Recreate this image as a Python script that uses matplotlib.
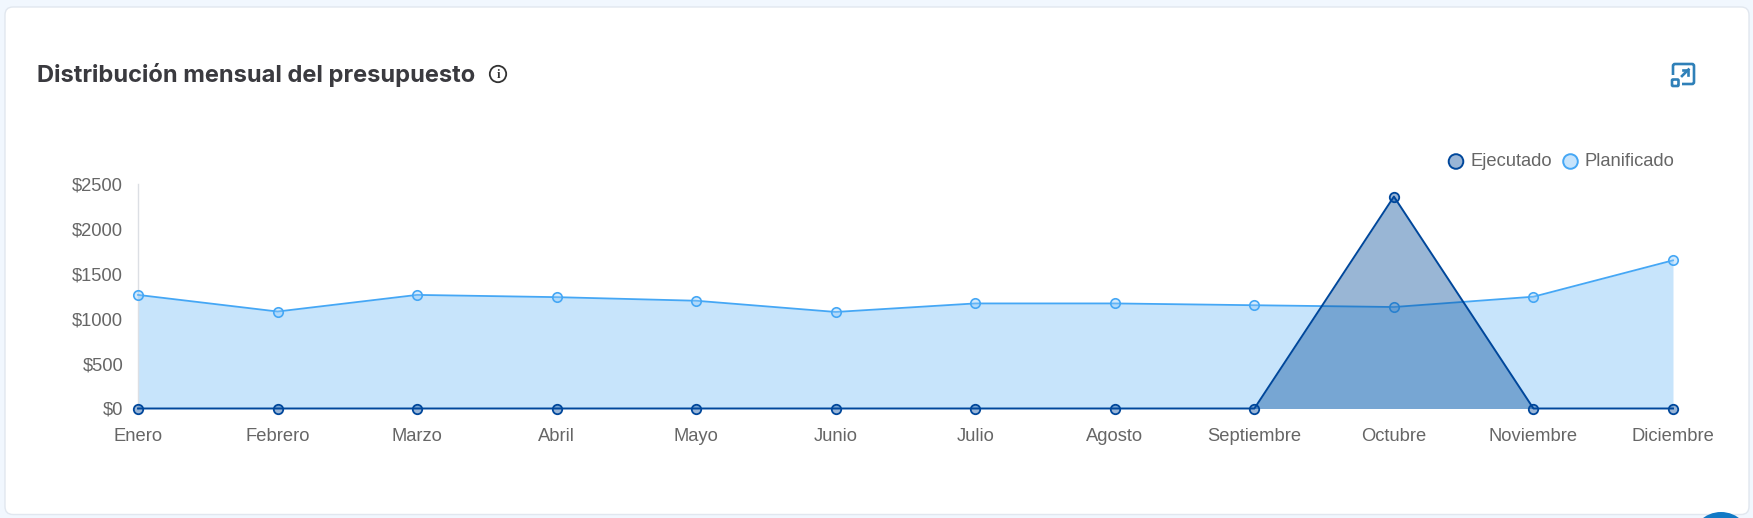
import matplotlib
matplotlib.use("Agg")
import matplotlib.pyplot as plt
from matplotlib.patches import FancyBboxPatch, Circle, Rectangle
from matplotlib.lines import Line2D

months = ["Enero", "Febrero", "Marzo", "Abril", "Mayo", "Junio", "Julio", "Agosto",
          "Septiembre", "Octubre", "Noviembre", "Diciembre"]
planificado = [1265, 1080, 1265, 1240, 1200, 1075, 1170, 1170, 1150, 1130, 1245, 1650]
ejecutado = [0, 0, 0, 0, 0, 0, 0, 0, 0, 2360, 0, 0]
yticks = [0, 500, 1000, 1500, 2000, 2500]
title = "Distribución mensual del presupuesto"

W, H = 1753, 518
GREY = "#666666"
DARK = "#00479b"
LIGHT = "#45a7f5"
LABEL_SIZE = 13.2

fig = plt.figure(figsize=(W / 100, H / 100), dpi=100, facecolor="#f1f7fe")

# card and page furniture in pixel coordinates
bg = fig.add_axes([0, 0, 1, 1], zorder=0)
bg.set_xlim(0, W)
bg.set_ylim(H, 0)
bg.axis("off")
bg.add_patch(FancyBboxPatch((5, 7), 1744, 507.5, boxstyle="round,pad=0,rounding_size=8",
                            fc="white", ec="#e1e7ef", lw=1.0))
bg.add_patch(Circle((1721, 542), 30, fc="#1279c5", ec="none", clip_on=True))
bg.text(37, 75, title, family="Inter", weight="bold", fontsize=17.05, color="#3a3a3f",
        va="center", ha="left")
bg.add_patch(Circle((498, 74), 8.2, fc="none", ec="#333333", lw=1.3))
bg.text(498, 74.5, "i", family="Liberation Serif", weight="bold", fontsize=9, color="#333333",
        ha="center", va="center")

# expand icon
IC = "#2f80b8"
bg.add_patch(FancyBboxPatch((1673, 64), 21, 20, boxstyle="round,pad=0,rounding_size=2",
                            fc="none", ec=IC, lw=1.9))
bg.add_patch(Rectangle((1669, 75), 13, 14, fc="white", ec="none", zorder=3))
bg.add_patch(FancyBboxPatch((1672, 79.5), 6.5, 6.5, boxstyle="round,pad=0,rounding_size=1",
                            fc="none", ec=IC, lw=1.9, zorder=4))
bg.add_line(Line2D([1682, 1688.5], [76, 69.5], color=IC, lw=1.9, zorder=4))
bg.add_line(Line2D([1683.5, 1688.5, 1688.5], [69.5, 69.5, 74.5], color=IC, lw=1.9, zorder=4))

# chart
x0, x1, ytop, ybot = 138, 1673, 184, 408.5
ax = fig.add_axes([x0 / W, 1 - ybot / H, (x1 - x0) / W, (ybot - ytop) / H], zorder=2)
ax.patch.set_alpha(0)
xs = list(range(len(months)))
ax.set_xlim(0, len(months) - 1)
ax.set_ylim(0, 2500)

ax.fill_between(xs, planificado, 0, color="#90caf9", alpha=0.5, lw=0, zorder=2)
ax.plot(xs, planificado, color=LIGHT, lw=1.3, zorder=3, clip_on=False)
ax.plot(xs, planificado, ls="none", marker="o", ms=6.8, mfc="#90caf966", mec=LIGHT, mew=1.2,
        zorder=4, clip_on=False)
ax.fill_between(xs, ejecutado, 0, color="#004a98", alpha=0.4, lw=0, zorder=5)
ax.plot(xs, ejecutado, color=DARK, lw=1.4, zorder=6, clip_on=False)
ax.plot(xs, ejecutado, ls="none", marker="o", ms=6.8, mfc="#00479b66", mec=DARK, mew=1.3,
        zorder=7, clip_on=False)

for s in ("top", "right", "bottom"):
    ax.spines[s].set_visible(False)
ax.spines["left"].set_color("#dcdfe4")
ax.spines["left"].set_linewidth(1.0)
ax.set_xticks(xs)
ax.set_xticklabels(months)
ax.set_yticks(yticks)
ax.set_yticklabels([f"${v}" for v in yticks])
ax.tick_params(axis="both", length=0, labelcolor=GREY, labelsize=LABEL_SIZE)
ax.tick_params(axis="x", pad=14.3)
ax.tick_params(axis="y", pad=10.7)
for t in ax.get_xticklabels() + ax.get_yticklabels():
    t.set_family("Liberation Sans")

# legend
bg.add_patch(Circle((1456, 161.5), 7.3, fc="#99b5d6", ec=DARK, lw=1.4))
bg.text(1471, 162, "Ejecutado", family="Liberation Sans", fontsize=LABEL_SIZE, color=GREY, va="center")
bg.add_patch(Circle((1570.5, 161.5), 7.3, fc="#c7e4fc", ec=LIGHT, lw=1.4))
bg.text(1585, 162, "Planificado", family="Liberation Sans", fontsize=LABEL_SIZE, color=GREY, va="center")

fig.savefig("out.png", dpi=100, facecolor=fig.get_facecolor())
